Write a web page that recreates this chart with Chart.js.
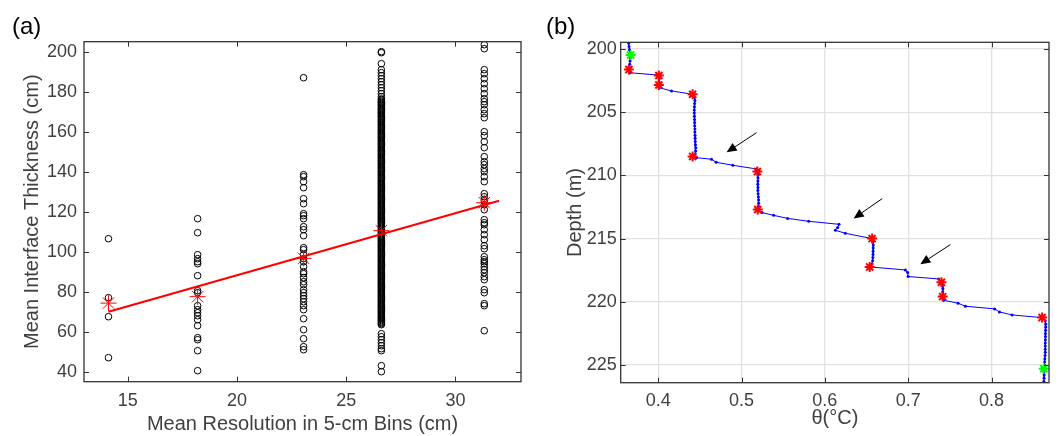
<!DOCTYPE html>
<html><head><meta charset="utf-8">
<script src="https://cdn.jsdelivr.net/npm/chart.js@4.4.0/dist/chart.umd.min.js"></script>
<style>
html,body{margin:0;padding:0;background:#fff;}
#wrap{position:relative;width:1060px;height:436px;overflow:hidden;}
.pane{position:absolute;top:0;width:530px;height:436px;}
.tag{position:absolute;top:12px;font:24px "Liberation Sans",Arial,sans-serif;color:#000;}
</style></head><body>
<div id="wrap">
  <div class="pane" style="left:0"><canvas id="cA" width="530" height="436"></canvas></div>
  <div class="pane" style="left:530px"><canvas id="cB" width="530" height="436"></canvas></div>
  <div class="tag" style="left:12px">(a)</div>
  <div class="tag" style="left:546px">(b)</div>
</div>
<script>
// ---- panel (a) data ----
const resX = [14.12, 18.2, 23.05, 26.61, 31.32];
const col1 = [106.5, 77, 67.5, 47];
const col2 = [116.5, 109.5, 98.5, 96.5, 95, 94, 88, 80.5, 79.5, 73, 71, 69.5, 68, 66, 63, 57, 56, 50.5, 40.5];
const col3 = [187, 138.5, 137.5, 135, 132, 126.5, 124, 119, 118, 116.5, 112.5, 111, 108, 102, 101, 98.5, 96.5, 95, 92.5, 90, 89, 87, 85, 83.5, 81, 79.5, 78, 76.5, 75, 73, 71, 66.5, 61, 56.5, 52.5, 51];
const col4 = [200, 199.5, 194, 191, 189.5, 188, 186.5, 185, 183.5, 182, 180.5, 179, 177.5, 176.4, 175.8, 175.2, 174.6, 174.1, 173.5, 173, 172.3, 171.6, 171.1, 170.5, 169.9, 169.4, 168.9, 168.3, 167.7, 167.2, 166.6, 166, 165.5, 164.9, 164.4, 163.8, 163.2, 162.6, 162.1, 161.5, 160.9, 160.4, 159.8, 159.2, 158.7, 158.1, 157.5, 157, 156.4, 155.8, 155.3, 154.7, 154.1, 153.6, 153, 152.4, 151.9, 151.3, 150.7, 150.2, 149.6, 149, 148.5, 147.9, 147.3, 146.8, 146.2, 145.6, 145.1, 144.5, 143.9, 143.4, 142.8, 142.2, 141.7, 141.1, 140.5, 140, 139.4, 138.8, 138.3, 137.7, 137.1, 136.6, 136,
  135.4, 134.9, 134.3, 133.8, 133.2, 132.7, 132.1, 131.6, 131, 130.5, 129.9, 129.4, 128.8, 128.3, 127.7, 127.2, 126.6, 126.1, 125.5, 125, 124.4, 123.9, 123.3, 122.8, 122.2, 121.7, 121.1, 120.6, 120, 119.5, 118.9, 118.4, 117.8, 117.3, 116.7, 116.2, 115.6, 115.1, 114.5, 114, 113.4, 112.9, 112.3, 111.8, 111.2, 110.7, 110.1, 109.6, 109, 108.5, 107.9, 107.4, 106.8, 106.3, 105.7, 105.2, 104.6, 104.1, 103.5, 103, 102.4, 101.9, 101.3, 100.8, 100.2, 99.7, 99.1, 98.6, 98, 97.5, 96.9, 96.4, 95.8, 95.3, 94.7, 94.2, 93.6, 93.1, 92.5, 92, 91.4, 90.9, 90.3, 89.8, 89.2, 88.7, 88.1, 87.6, 87, 86.5, 85.9, 85.4, 84.8, 84.3, 83.7, 83.2, 82.6, 82.1, 81.5, 81, 80.4, 79.9, 79.3, 78.8, 78.2, 77.7, 77.1, 76.6, 76, 75.5, 74.9, 74.4, 73.8, 73.3, 72.7, 72.2, 71.6, 71.1, 70.5, 70, 69.4, 68.9, 68.3, 67.8, 67.2, 66.7, 66.1, 65.6, 65, 64.5, 64, 63.5,
  59, 57.5, 56, 54.5, 53, 51.5, 50.5, 43, 40];
const col5 = [203.5, 201.5, 191, 189, 186.5, 184, 181.5, 179, 176.5, 175, 173.5, 171, 169, 167, 160, 158, 155, 152, 147.5, 145, 143.5, 141.5, 140, 137.5, 135, 129, 127.5, 125.5, 123.5, 121, 116, 114.5, 113.5, 111, 108.5, 106, 103, 101.5, 97.5, 96, 95, 94, 92.5, 91, 89.5, 87.5, 86, 81, 79.5, 74, 73, 60.5];
const meanY = [74.3, 77.5, 96.7, 110.5, 124.5];
const fitX = [14.12, 32.0];
const fitY = [70, 125.5];
const xTicksA = [15, 20, 25, 30];
const yTicksA = [40, 60, 80, 100, 120, 140, 160, 180, 200];

// ---- panel (b) data ----
const depthB = [199.3, 199.55, 199.8, 200.05, 200.3, 200.47, 200.7, 200.95, 201.2, 201.42, 201.63, 201.88, 202.06, 202.1, 202.35, 202.6, 202.85, 203.06, 203.32, 203.58,
  203.82, 204.07, 204.32, 204.57, 204.82, 205.07, 205.32, 205.57, 205.82, 206.07, 206.32, 206.57, 206.82, 207.07, 207.32, 207.57, 207.82, 208.07, 208.3, 208.5,
  208.6, 208.72, 208.96, 209.2, 209.49, 209.7, 209.95, 210.2, 210.45, 210.7, 210.95, 211.2, 211.45, 211.7, 211.95, 212.2, 212.45, 212.7,
  212.94, 213.16, 213.4, 213.63, 213.87, 214.13, 214.34, 214.58, 215.0, 215.25, 215.5, 215.75, 216.0, 216.25, 216.5, 216.75, 217.0, 217.24,
  217.48, 217.69, 218.0, 218.19, 218.45, 218.7, 218.95, 219.2, 219.4, 219.59, 219.88, 220.11, 220.35, 220.56, 220.8, 221.04, 221.25,
  221.5, 221.75, 222.0, 222.25, 222.5, 222.75, 223.0, 223.25, 223.5, 223.75, 224.0, 224.25, 224.5, 224.75, 225.0, 225.3, 225.55, 225.8, 226.05, 226.3, 226.6];
const thetaB = [0.3645, 0.3646, 0.3650, 0.3655, 0.3662, 0.3669, 0.3666, 0.3662, 0.3658, 0.3652, 0.3648, 0.3662, 0.3995, 0.4008, 0.4012, 0.4010, 0.4008, 0.4012, 0.4160, 0.4413,
  0.4438, 0.4440, 0.4437, 0.4434, 0.4432, 0.4432, 0.4434, 0.4436, 0.4437, 0.4438, 0.4440, 0.4440, 0.4442, 0.4443, 0.4445, 0.4447, 0.4452, 0.4450, 0.4443, 0.4413,
  0.4460, 0.4640, 0.4695, 0.4895, 0.5180, 0.5190, 0.5200, 0.5198, 0.5196, 0.5195, 0.5197, 0.5196, 0.5199, 0.5202, 0.5205, 0.5206, 0.5204, 0.5195,
  0.5246, 0.5385, 0.5553, 0.5806, 0.6170, 0.6154, 0.6126, 0.6246, 0.6567, 0.6578, 0.6581, 0.6580, 0.6579, 0.6578, 0.6576, 0.6573, 0.6565, 0.6538,
  0.6966, 0.6994, 0.6999, 0.7366, 0.7399, 0.7412, 0.7416, 0.7415, 0.7416, 0.7414, 0.7426, 0.7599, 0.7687, 0.8038, 0.8095, 0.8247, 0.8607,
  0.8645, 0.8652, 0.8652, 0.8650, 0.8648, 0.8648, 0.8647, 0.8645, 0.8645, 0.8644, 0.8645, 0.8643, 0.8640, 0.8638, 0.8635, 0.8628, 0.8630, 0.8632, 0.8630, 0.8628, 0.8626];
const redD = [201.63, 202.1, 202.85, 203.58, 208.5, 209.7, 212.7, 215.0, 217.24, 218.45, 219.59, 221.25];
const redT = [0.3648, 0.4008, 0.4008, 0.4413, 0.4413, 0.5190, 0.5195, 0.6567, 0.6538, 0.7399, 0.7414, 0.8607];
const greenD = [200.47, 225.3];
const greenT = [0.3669, 0.8627];
const arrowTailT = [0.5181, 0.6690, 0.7507];
const arrowTailD = [206.62, 211.83, 215.47];
const arrowTipT = [0.4821, 0.6346, 0.7146];
const arrowTipD = [208.17, 213.4, 217.03];
const xTicksB = [0.4, 0.5, 0.6, 0.7, 0.8];
const yTicksB = [200, 205, 210, 215, 220, 225];

const FONT = '"Liberation Sans", Arial, sans-serif';
const TXT = '#404040';
const AX = '#333333';

// box round the plot area with inward tick marks on all four sides
const frame = {
  id:'frame',
  afterDraw(chart){
    const {ctx, chartArea:a, scales:{x,y}} = chart;
    const L = 5;
    ctx.save();
    ctx.strokeStyle = AX; ctx.lineWidth = 1;
    ctx.beginPath();
    x.ticks.forEach(t=>{
      const px = Math.round(x.getPixelForValue(t.value))+0.5;
      ctx.moveTo(px,a.bottom); ctx.lineTo(px,a.bottom-L);
      ctx.moveTo(px,a.top); ctx.lineTo(px,a.top+L);
    });
    y.ticks.forEach(t=>{
      const py = Math.round(y.getPixelForValue(t.value))+0.5;
      ctx.moveTo(a.left,py); ctx.lineTo(a.left+L,py);
      ctx.moveTo(a.right,py); ctx.lineTo(a.right-L,py);
    });
    ctx.stroke();
    ctx.lineWidth = 1.3;
    ctx.strokeRect(a.left, a.top, a.right-a.left, a.bottom-a.top);
    ctx.restore();
  }
};

const arrows = {
  id:'arrows',
  afterDatasetsDraw(chart){
    const {ctx, scales:{x,y}} = chart;
    ctx.save(); ctx.strokeStyle='#000'; ctx.fillStyle='#000'; ctx.lineWidth=1;
    arrowTailT.forEach((_,i)=>{
      const x0=x.getPixelForValue(arrowTailT[i]), y0=y.getPixelForValue(arrowTailD[i]);
      const x1=x.getPixelForValue(arrowTipT[i]), y1=y.getPixelForValue(arrowTipD[i]);
      const ang=Math.atan2(y1-y0,x1-x0), hl=10, hw=4.5;
      const bx=x1-hl*Math.cos(ang), by=y1-hl*Math.sin(ang);
      ctx.beginPath(); ctx.moveTo(x0,y0); ctx.lineTo(bx,by); ctx.stroke();
      ctx.beginPath(); ctx.moveTo(x1,y1);
      ctx.lineTo(bx+hw*Math.sin(ang), by-hw*Math.cos(ang));
      ctx.lineTo(bx-hw*Math.sin(ang), by+hw*Math.cos(ang));
      ctx.closePath(); ctx.fill();
    });
    ctx.restore();
  }
};

const tickFont = {family:FONT, size:18};
const titleFont = {family:FONT, size:20};
const setTicks = arr => s => { s.ticks = arr.map(v=>({value:v})); };

// ---- chart (a) ----
const circles = [];
[col1,col2,col3,col4,col5].forEach((col,i)=>col.forEach(v=>circles.push({x:resX[i], y:v})));

new Chart(document.getElementById('cA'),{
  type:'scatter',
  data:{datasets:[
    {data:circles, pointStyle:'circle', pointRadius:3.3, borderColor:'#000', backgroundColor:'rgba(0,0,0,0)', borderWidth:1, order:3},
    {type:'line', data:fitX.map((v,i)=>({x:v,y:fitY[i]})), borderColor:'#ff0000', borderWidth:2, pointRadius:0, fill:false, order:2},
    {data:resX.map((v,i)=>({x:v,y:meanY[i]})), pointStyle:'star', pointRadius:8, borderColor:'#ff0000', backgroundColor:'#ff0000', borderWidth:1, order:1}
  ]},
  options:{
    responsive:false, animation:false, events:[],
    layout:{padding:{left:0, right:6.7, top:41.7, bottom:0}},
    plugins:{legend:{display:false}, tooltip:{enabled:false}},
    scales:{
      x:{type:'linear', min:13, max:33, afterBuildTicks:setTicks(xTicksA), afterFit:s=>{s.height=54.3;},
        grid:{display:false, drawTicks:false}, border:{display:false},
        ticks:{padding:9, color:TXT, font:tickFont},
        title:{display:true, text:'Mean Resolution in 5-cm Bins (cm)', color:TXT, font:titleFont, padding:{top:0,bottom:0}}},
      y:{type:'linear', min:35, max:205, afterBuildTicks:setTicks(yTicksA), afterFit:s=>{s.width=84;},
        grid:{display:false, drawTicks:false}, border:{display:false},
        ticks:{padding:7, color:TXT, font:tickFont},
        title:{display:true, text:'Mean Interface Thickness (cm)', color:TXT, font:titleFont, padding:{top:20,bottom:0}}}
    }
  },
  plugins:[frame]
});

// ---- chart (b) ----
new Chart(document.getElementById('cB'),{
  type:'scatter',
  data:{datasets:[
    {data:greenT.map((v,i)=>({x:v,y:greenD[i]})), pointStyle:'star', pointRadius:5, borderColor:'#00ff00', borderWidth:2, order:1},
    {data:redT.map((v,i)=>({x:v,y:redD[i]})), pointStyle:'star', pointRadius:5, borderColor:'#ff0000', borderWidth:2, order:2},
    {data:thetaB.map((v,i)=>({x:v,y:depthB[i]})), showLine:true, borderColor:'#0000ff', borderWidth:1,
      pointRadius:1.5, pointBackgroundColor:'#0000ff', pointBorderWidth:0, clip:0, order:3}
  ]},
  options:{
    responsive:false, animation:false, events:[],
    layout:{padding:{left:0, right:11, top:42.3, bottom:0}},
    plugins:{legend:{display:false}, tooltip:{enabled:false}},
    scales:{
      x:{type:'linear', min:0.355, max:0.869, afterBuildTicks:setTicks(xTicksB), afterFit:s=>{s.height=53.3;},
        grid:{color:'#e1e1e1', lineWidth:1.3, drawTicks:false}, border:{display:false},
        ticks:{padding:8, color:TXT, font:tickFont, callback:v=>v.toFixed(1)},
        title:{display:true, text:'θ(°C)', color:TXT, font:titleFont, padding:{top:0,bottom:6}}},
      y:{type:'linear', reverse:true, min:199.47, max:226.4, afterBuildTicks:setTicks(yTicksB), afterFit:s=>{s.width=90.7;},
        grid:{color:'#e1e1e1', lineWidth:1.3, drawTicks:false}, border:{display:false},
        ticks:{padding:4, color:TXT, font:tickFont},
        title:{display:true, text:'Depth (m)', color:TXT, font:titleFont, padding:{top:33,bottom:0}}}
    }
  },
  plugins:[frame, arrows]
});
</script>
</body></html>
